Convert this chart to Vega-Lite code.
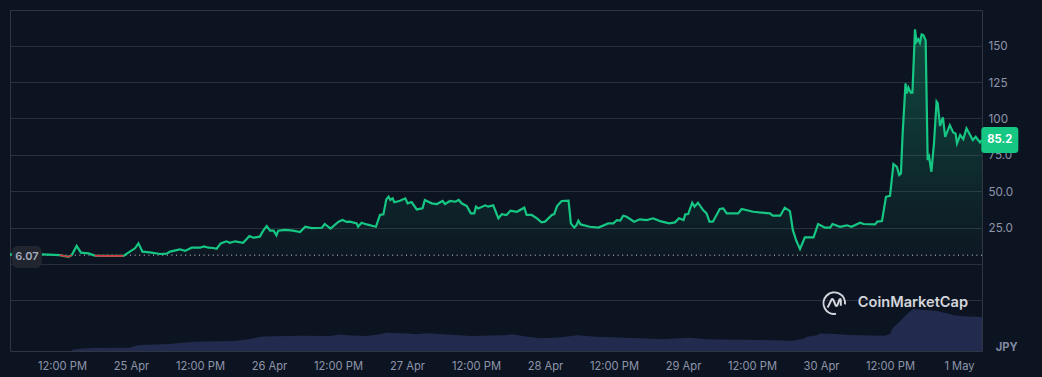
{"$schema":"https://vega.github.io/schema/vega-lite/v6.json","width":972,"height":341,"autosize":"none","padding":{"left":10,"top":10,"right":60,"bottom":26},"background":"#0d1421","config":{"view":{"stroke":"#2f3542","strokeWidth":1},"font":"Inter"},
"datasets":{"price":[
{"hour":2.96,"price":6.6},{"hour":8.5,"price":6.6},{"hour":11.6,"price":6.1,"run":1},{"hour":13.1,"price":5.0,"run":1},{"hour":13.7,"price":6.1,"run":1},{"hour":14.55,"price":12.4},{"hour":15.3,"price":7.8},{"hour":16.6,"price":7.3},{"hour":17.7,"price":5.8,"run":2},{"hour":19.2,"price":5.6,"run":2},{"hour":22.7,"price":5.6,"run":2},{"hour":23.8,"price":8.5},{"hour":24.7,"price":10.8},{"hour":25.3,"price":14.2},{"hour":26.0,"price":8.5},{"hour":27.3,"price":8.0},{"hour":29.05,"price":6.9},{"hour":30.2,"price":7.1},{"hour":30.8,"price":8.5},{"hour":32.5,"price":10.1},{"hour":33.4,"price":9.0},{"hour":34.55,"price":11.2},{"hour":36.0,"price":11.2},{"hour":36.7,"price":12.1},{"hour":37.5,"price":11.2},{"hour":38.3,"price":11.0},{"hour":38.9,"price":10.5},{"hour":39.6,"price":14.2},{"hour":40.6,"price":15.6},{"hour":41.2,"price":14.6},{"hour":42.1,"price":15.6},{"hour":43.5,"price":14.6},{"hour":44.6,"price":19.2},{"hour":45.3,"price":18.1},{"hour":46.4,"price":18.8},{"hour":47.0,"price":22.9},{"hour":47.6,"price":26.1},{"hour":48.2,"price":22.9},{"hour":48.8,"price":22.9},{"hour":49.3,"price":19.7},{"hour":49.6,"price":22.9},{"hour":50.8,"price":23.4},{"hour":52.2,"price":22.9},{"hour":53.4,"price":22.0},{"hour":54.3,"price":25.6},{"hour":55.4,"price":24.7},{"hour":57.2,"price":24.9},{"hour":57.7,"price":27.5},{"hour":58.7,"price":24.3},{"hour":60.1,"price":29.1},{"hour":60.8,"price":30.2},{"hour":61.5,"price":28.9},
{"hour":62.1,"price":29.1},{"hour":63.25,"price":27.9},{"hour":63.5,"price":25.6},{"hour":64.1,"price":28.4},{"hour":65.0,"price":27.2},{"hour":66.6,"price":25.6},{"hour":67.3,"price":33.7},{"hour":67.9,"price":34.1},{"hour":68.4,"price":44.4},{"hour":68.8,"price":46.2},{"hour":69.1,"price":44.0},{"hour":69.5,"price":45.1},{"hour":69.8,"price":42.4},{"hour":70.8,"price":43.5},{"hour":71.7,"price":45.1},{"hour":72.1,"price":41.7},{"hour":72.8,"price":42.6},{"hour":73.7,"price":37.5},{"hour":74.7,"price":38.2},{"hour":75.1,"price":44.0},{"hour":76.3,"price":41.7},{"hour":77.2,"price":41.2},{"hour":78.2,"price":43.3},{"hour":78.6,"price":41.2},{"hour":79.5,"price":43.3},{"hour":80.4,"price":42.8},{"hour":81.0,"price":44.0},{"hour":81.5,"price":41.7},{"hour":82.4,"price":39.8},{"hour":83.1,"price":34.8},{"hour":83.7,"price":34.8},{"hour":84.0,"price":39.4},{"hour":84.4,"price":38.2},{"hour":85.6,"price":40.3},{"hour":86.1,"price":39.4},{"hour":87.0,"price":40.3},{"hour":87.9,"price":31.4},{"hour":88.5,"price":34.3},{"hour":89.3,"price":33.7},{"hour":90.0,"price":36.6},{"hour":91.1,"price":35.9},{"hour":92.4,"price":38.7},{"hour":92.8,"price":33.7},{"hour":93.7,"price":33.7},{"hour":94.6,"price":31.4},{"hour":95.4,"price":28.6},{"hour":96.0,"price":29.1},{"hour":97.2,"price":33.7},{"hour":97.6,"price":34.3},{"hour":98.1,"price":39.8},{"hour":98.9,"price":43.3},{"hour":100.1,"price":43.5},{"hour":100.5,"price":27.9},{"hour":101.1,"price":25.0},{"hour":101.5,"price":26.8},{"hour":101.8,"price":29.8},{"hour":102.2,"price":27.2},{"hour":103.8,"price":25.6},{"hour":105.3,"price":25.0},{"hour":107.0,"price":27.9},{"hour":107.9,"price":27.9},{"hour":108.5,"price":30.2},{"hour":109.1,"price":29.8},{"hour":109.6,"price":33.2},{"hour":110.2,"price":32.5},{"hour":111.5,"price":29.1},{"hour":112.5,"price":30.7},{"hour":113.7,"price":30.2},{"hour":114.8,"price":31.4},{"hour":116.0,"price":29.5},{"hour":117.6,"price":27.9},{"hour":118.6,"price":28.6},{"hour":119.3,"price":31.4},{"hour":120.1,"price":30.2},{"hour":120.4,"price":34.1},{"hour":120.9,"price":34.3},{"hour":121.6,"price":42.1},{"hour":122.0,"price":39.4},{"hour":122.6,"price":42.1},{"hour":123.5,"price":37.1},{"hour":124.1,"price":34.8},{"hour":124.6,"price":29.1},{"hour":125.2,"price":29.1},{"hour":126.4,"price":37.8},{"hour":127.0,"price":38.2},{"hour":127.6,"price":34.8},{"hour":129.6,"price":34.8},{"hour":130.2,"price":37.8},{"hour":132.2,"price":35.9},{"hour":135.1,"price":34.8},{"hour":135.6,"price":33.2},{"hour":136.9,"price":33.2},{"hour":137.7,"price":38.7},{"hour":138.6,"price":36.4},{"hour":139.1,"price":23.4},{"hour":139.7,"price":16.0},{"hour":140.35,"price":10.3},{"hour":141.2,"price":18.3},{"hour":142.7,"price":18.3},{"hour":143.5,"price":27.5},{"hour":144.7,"price":25},{"hour":145.6,"price":25},{"hour":146,"price":27.5},{"hour":147.3,"price":25.6},{"hour":148.5,"price":26.6},{"hour":149.3,"price":25.6},{"hour":150.8,"price":28.4},{"hour":151.4,"price":27.5},{"hour":153.4,"price":27.2},{"hour":153.8,"price":29.1},{"hour":154.6,"price":29.5},{"hour":155.3,"price":46.2},{"hour":156,"price":46.9},{"hour":156.6,"price":68.7},{"hour":157.2,"price":66.8},{"hour":157.6,"price":61.1},{"hour":157.9,"price":62.2},{"hour":158.2,"price":89.7},{"hour":158.7,"price":124.1},{"hour":158.9,"price":117.2},{"hour":159.2,"price":121.3},{"hour":159.6,"price":117.7},{"hour":159.9,"price":117.7},{"hour":160.35,"price":161.2},{"hour":160.6,"price":152.7},{"hour":160.9,"price":154.5},{"hour":161.2,"price":152},{"hour":161.5,"price":157.7},{"hour":161.8,"price":157.3},{"hour":162.2,"price":153.8},{"hour":162.55,"price":71.4},{"hour":162.8,"price":73.7},{"hour":163.2,"price":63.4},{"hour":163.65,"price":82.9},{"hour":164.1,"price":111.5},{"hour":164.3,"price":110.3},{"hour":164.7,"price":94.8},{"hour":165.2,"price":100.7},{"hour":165.6,"price":87.4},{"hour":166.4,"price":95.4},{"hour":167.0,"price":90.4},{"hour":167.4,"price":89.7},{"hour":167.65,"price":82.9},{"hour":168.2,"price":88.6},{"hour":168.75,"price":85.8},{"hour":169.3,"price":93.2},{"hour":170.4,"price":85.1},{"hour":170.9,"price":87.4},{"hour":171.65,"price":83.5},{"hour":172,"price":85.2}
],
"volume":[{"hour":13.7,"vol":1},{"hour":15.1,"vol":2.3},{"hour":17.7,"vol":3},{"hour":23.8,"vol":3.2},{"hour":24.7,"vol":5},{"hour":25.6,"vol":6},{"hour":30.8,"vol":7},{"hour":32.5,"vol":8},{"hour":35.1,"vol":9.3},{"hour":42.1,"vol":10},{"hour":44.7,"vol":12},{"hour":46.8,"vol":14.6},{"hour":53.4,"vol":15.3},{"hour":58.6,"vol":15},{"hour":60.3,"vol":16.5},{"hour":61.6,"vol":15.7},{"hour":65,"vol":15},{"hour":67,"vol":16.5},{"hour":68.5,"vol":18.3},{"hour":72,"vol":17.5},{"hour":73.7,"vol":16.7},{"hour":75.5,"vol":17.7},{"hour":78.3,"vol":16.7},{"hour":83,"vol":15},{"hour":89,"vol":15.7},{"hour":90.3,"vol":16.7},{"hour":92.9,"vol":14.3},{"hour":95.1,"vol":12.7},{"hour":98.1,"vol":13.3},{"hour":101.6,"vol":15.7},{"hour":105,"vol":14.3},{"hour":112.5,"vol":12.7},{"hour":116.5,"vol":11.7},{"hour":121.2,"vol":13.3},{"hour":124,"vol":11.7},{"hour":133,"vol":11},{"hour":139.1,"vol":10.3},{"hour":140.9,"vol":12.3},{"hour":141.6,"vol":14.3},{"hour":143.3,"vol":15.7},{"hour":143.8,"vol":17.5},{"hour":146.4,"vol":17},{"hour":149,"vol":16},{"hour":152.5,"vol":15.5},{"hour":155.1,"vol":15.2},{"hour":156,"vol":17},{"hour":156.5,"vol":23},{"hour":158.3,"vol":33},{"hour":158.6,"vol":35},{"hour":160,"vol":42},{"hour":164.2,"vol":40},{"hour":167,"vol":36},{"hour":168.2,"vol":35},{"hour":171.7,"vol":34},{"hour":172,"vol":34}]},
"resolve":{"scale":{"y":"independent"}},
"layer":[
{"data":{"name":"volume"},"mark":{"type":"area","color":"#222b4e"},"encoding":{"x":{"field":"hour","type":"quantitative","scale":{"domain":[2.96,172],"nice":false,"zero":false},"axis":{"values":[12,24,36,48,60,72,84,96,108,120,132,144,156,168],"labelExpr":"datum.value%24==12?'12:00 PM':['25 Apr','26 Apr','27 Apr','28 Apr','29 Apr','30 Apr','1 May'][datum.value/24-1]","title":null,"grid":false,"ticks":false,"domain":false,"labelColor":"#8d95ab","labelFont":"Inter","labelFontSize":11.2,"labelPadding":9,"labelFlush":false}},"y":{"field":"vol","type":"quantitative","scale":{"domain":[0,341],"nice":false},"axis":null}}},
{"layer":[
{"data":{"name":"price"},"mark":{"type":"area","color":{"gradient":"linear","x1":0,"y1":0,"x2":0,"y2":1,"stops":[{"offset":0,"color":"rgba(22,199,132,0.3)"},{"offset":1,"color":"rgba(22,199,132,0.02)"}]}},"encoding":{"x":{"field":"hour","type":"quantitative"},"y":{"field":"price","type":"quantitative","scale":{"domain":[-59.75,174.5],"nice":false,"zero":false},"axis":{"orient":"right","values":[-25,0,25,50,75,100,125,150],"labelExpr":"datum.value<=0?'':(datum.value>=100?format(datum.value,'d'):format(datum.value,'.1f'))","title":null,"grid":true,"gridColor":"#2a2f3c","gridWidth":1,"ticks":false,"domain":false,"labelColor":"#8d95ab","labelFont":"Inter","labelFontSize":11.7,"labelPadding":6}},"y2":{"datum":6.07}}},
{"data":{"values":[{"base":6.07}]},"mark":{"type":"rule","color":"#c9ced8","strokeDash":[1,3.6],"strokeWidth":1},"encoding":{"y":{"field":"base","type":"quantitative"}}},
{"data":{"name":"price"},"mark":{"type":"line","color":"#16c784","strokeWidth":2.2},"encoding":{"x":{"field":"hour","type":"quantitative"},"y":{"field":"price","type":"quantitative"}}},
{"data":{"name":"price"},"transform":[{"filter":"datum.run>0"}],"mark":{"type":"line","color":"#d9343f","strokeWidth":1.6},"encoding":{"x":{"field":"hour","type":"quantitative"},"y":{"field":"price","type":"quantitative"},"detail":{"field":"run"}}},
{"data":{"values":[{"label":"6.07"}]},"mark":{"type":"rect","width":30,"height":22,"cornerRadius":6,"color":"#20252f"},"encoding":{"x":{"datum":5.9},"y":{"datum":4.8}}},
{"data":{"values":[{"label":"6.07"}]},"mark":{"type":"text","color":"#a6acbb","fontSize":11,"fontWeight":600,"font":"Inter"},"encoding":{"x":{"datum":5.9},"y":{"datum":4.8},"text":{"field":"label"}}},
{"data":{"values":[{"label":"85.2"}]},"mark":{"type":"rect","width":37,"height":26,"cornerRadius":3,"color":"#16c784"},"encoding":{"x":{"datum":175.1},"y":{"datum":85.2}}},
{"data":{"values":[{"label":"85.2"}]},"mark":{"type":"text","color":"#ffffff","fontSize":11.2,"fontWeight":700,"font":"Inter"},"encoding":{"x":{"datum":175.1},"y":{"datum":85.2},"text":{"field":"label"}}},
{"data":{"values":[{"label":"JPY"}]},"mark":{"type":"text","color":"#7f88a0","fontSize":11.2,"fontWeight":700,"font":"Inter"},"encoding":{"x":{"datum":176.3},"y":{"datum":-58},"text":{"field":"label"}}},
{"data":{"values":[{"label":"CoinMarketCap"}]},"mark":{"type":"text","color":"#d3d6dc","fontSize":14.6,"fontWeight":600,"font":"Inter","align":"left"},"encoding":{"x":{"datum":150.4},"y":{"datum":-26.8},"text":{"field":"label"}}},
{"data":{"values":[{"label":"logo"}]},"mark":{"type":"point","filled":false,"size":1936,"strokeWidth":2,"opacity":1,"color":"#d3d6dc","shape":"M0.08 0.49 A0.49 0.49 0 1 1 0.49 0.06 M-0.3 0.2 L-0.12 -0.16 Q-0.07 -0.22 -0.03 -0.12 L0.06 0.1 Q0.12 0.18 0.15 0.08 L0.24 -0.16 Q0.3 -0.22 0.3 -0.1 L0.3 0.12"},"encoding":{"x":{"datum":146.3},"y":{"datum":-26.8}}}
]}
]}
